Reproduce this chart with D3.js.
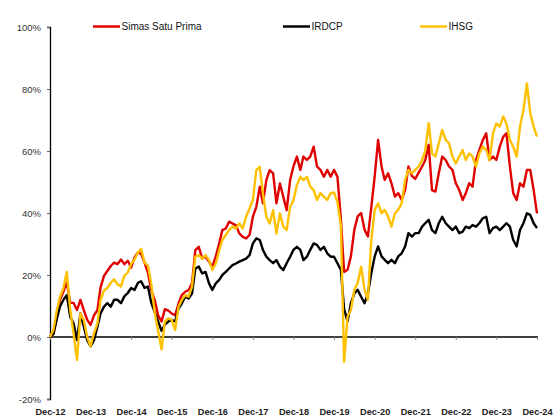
<!DOCTYPE html>
<html>
<head>
<meta charset="utf-8">
<script src="https://cdn.jsdelivr.net/npm/d3@7"></script>
<style>
  html, body { margin: 0; padding: 0; background: #fff; }
  svg { display: block; }
</style>
</head>
<body>
<svg id="chart" width="560" height="420"></svg>
<script>
// Monthly observations, first = Dec-2012, last = Dec-2024 (cumulative return, %)
const startMonth = new Date(2012, 11, 1);

const seriesNames = ["Simas Satu Prima", "IRDCP", "IHSG"];
const seriesColors = ["#E10000", "#000000", "#FFC000"];

const simas = [
  0, 1, 6.5, 12, 14.7, 17.6, 11, 11, 8.7, 12, 8.7, 5.5, 3.9,
  7, 8.7, 16, 19.7, 21.3, 22.9, 24, 23.5, 25, 23.5, 24.6, 22.4,
  25.7, 27.3, 26.8, 24, 20.8, 15, 12, 7, 5, 9, 8.5, 7.6,
  7, 10.8, 13.5, 14.6, 15.1, 17.3, 28, 29.1, 25.3, 25.9, 24.3, 22.7,
  25.9, 30.2, 34.5, 35, 37.2, 36.6, 36.1, 33.4, 32.3, 31.8, 32.9, 38.8,
  42, 48.5, 43.1, 50.6, 53.8, 52.8, 43.1, 49.5, 45.2, 40.9, 50.6, 55,
  58.2, 53.9, 58.2, 57.1, 58.2, 61.4, 55, 53.9, 51.7, 53.9, 51.7, 53.9,
  51.7, 38, 21, 21.7, 26, 34.6, 38.9, 40, 34.6, 32.4, 42, 51.7,
  63.6, 55, 50.7, 52.8, 49.6, 45.3, 46.4, 44.2, 47.4, 55, 52, 51,
  53, 55, 57, 62, 47.4, 46.9, 52.8, 58.2, 57.1, 55, 53.9, 49.6,
  47.4, 44.2, 46.4, 49.6, 48.5, 57.1, 60.3, 63.5, 65.7, 57.1, 58.2, 57.1,
  61.4, 64.6, 65.7, 55, 46.4, 44.2, 49.6, 48.5, 53.9, 53.9, 47.4, 39.9
];

const irdcp = [
  0, 1, 6, 9.8, 12, 13.5, 6.5, 4.4, -1, 7.6, 3.3, -1, -3,
  -1, 3.3, 7.6, 9.8, 10.9, 9.8, 12, 12, 10.9, 13.1, 14.2, 15.8,
  15.2, 17.5, 18, 15.8, 16.3, 11, 8, 5, 2, 4, 5, 5.5,
  5, 9.2, 10.8, 13, 12.4, 14, 22.1, 22.7, 20.5, 21, 17.3, 15.2,
  17.3, 18.4, 20, 21, 22.1, 23.2, 23.7, 24.3, 24.8, 25.3, 26.4, 30.2,
  31.8, 31.3, 28.1, 25.9, 24.8, 23.8, 24.8, 22.7, 21.6, 23.8, 25.9, 28.1,
  29.1, 28.1, 24.8, 25.9, 28.1, 30.2, 29.7, 28.1, 29.1, 27, 25.9, 25.9,
  23.8, 21.6, 9, 5, 10.9, 14.1, 15.2, 13, 10.9, 14, 20.6, 26,
  29.2, 26, 24.9, 23.8, 24.9, 23.8, 26, 27, 29.2, 33.5, 32.4, 33.5,
  33.5, 35.6, 36.7, 37.8, 34.5, 33.5, 36.7, 38.8, 36.7, 35.6, 34.5, 35.6,
  33.5, 34, 35.6, 35.1, 36.1, 35.6, 36.7, 38.3, 38.8, 33.5, 35.1, 35.6,
  34.5, 35.6, 36.7, 35.6, 31.3, 29.2, 34.5, 36.7, 39.9, 39.4, 36.7, 35.1
];

const ihsg = [
  0, 2.3, 8.7, 13, 15.8, 21, 8.7, 1.2, -7.4, 7.6, 5.5, 0, -3,
  1.2, 4.4, 12, 15, 15.8, 17.5, 18.6, 17, 16.3, 19.7, 20.8, 23.5,
  25, 27.3, 28.4, 24, 23, 17, 8, 2, -4, 5, 6, 5.5,
  2.2, 9.8, 11.9, 13.5, 13, 16.2, 25.9, 26.4, 25.3, 26.4, 24.8, 21.6,
  23.7, 28, 31.3, 32.9, 34.5, 35.6, 35, 36.6, 35, 38.8, 41.5, 44.2,
  53.8, 54.9, 46.3, 38.8, 36.6, 40.9, 33.4, 39.9, 35.6, 34.5, 42, 44,
  49, 51.7, 50.6, 51.7, 48.5, 47.4, 44.2, 46.4, 45.3, 44.2, 46.4, 46.6,
  43.6, 36, -8, 6.6, 8.7, 15.2, 17.4, 22.7, 15.2, 12, 31.3, 41,
  43.1, 39.9, 41, 38.9, 35.6, 39.9, 41, 43.1, 50.7, 53.9, 52.8, 53.9,
  55, 57.1, 60, 69, 59.2, 58.2, 62.5, 66.8, 63.6, 62.5, 58.2, 56,
  58.2, 60.3, 57.1, 59.2, 58.2, 55, 59.2, 61.4, 60.3, 57.1, 65.7, 68.9,
  67.9, 71.1, 68.9, 63.6, 61.4, 58.2, 67.9, 73.2, 81.8, 72.2, 67.9, 64.6
];

const yTicks = [-20, 0, 20, 40, 60, 80, 100];
const xTickYears = [2012, 2013, 2014, 2015, 2016, 2017, 2018, 2019, 2020, 2021, 2022, 2023, 2024];

const allSeries = [simas, irdcp, ihsg];

const svg = d3.select("#chart");
const padL = 50, padR = 537, padT = 27, padB = 399;

const x = d3.scaleTime()
  .domain([startMonth, new Date(2024, 11, 1)])
  .range([padL, padR]);
const y = d3.scaleLinear().domain([-20, 100]).range([padB, padT]);

const dateOf = i => d3.timeMonth.offset(startMonth, i);

// y axis
const yAxis = d3.axisLeft(y)
  .tickValues(yTicks)
  .tickFormat(d => d + "%")
  .tickSize(3)
  .tickPadding(6);
const gy = svg.append("g").attr("transform", `translate(${padL},0)`).call(yAxis);
gy.select(".domain").attr("stroke", "#000").attr("stroke-width", 1.3);
gy.selectAll(".tick line").attr("stroke", "#666");
gy.selectAll("text")
  .attr("font-family", "'Liberation Sans', Arial, sans-serif")
  .attr("font-size", 9.5)
  .attr("fill", "#333");

// x axis on the zero line
const xAxis = d3.axisBottom(x)
  .tickValues(xTickYears.map(yr => new Date(yr, 11, 1)))
  .tickFormat(d3.timeFormat("Dec-%y"))
  .tickSize(3)
  .tickSizeOuter(0);
const gx = svg.append("g").attr("transform", `translate(0,${y(0)})`).call(xAxis);
gx.select(".domain").attr("stroke", "#000").attr("stroke-width", 1.3)
  .attr("d", `M${padL},0H${padR + 1}`);
gx.selectAll(".tick line").attr("stroke", "#888");
gx.selectAll("text")
  .attr("font-family", "'Liberation Sans', Arial, sans-serif")
  .attr("font-weight", "bold")
  .attr("font-size", 9.2)
  .attr("fill", "#222")
  .attr("y", padB - y(0) + 9)
  .attr("dy", "0.71em");

// lines
const line = d3.line()
  .x((d, i) => x(dateOf(i)))
  .y(d => y(d));

svg.append("g").selectAll("path")
  .data(allSeries)
  .join("path")
  .attr("d", d => line(d))
  .attr("fill", "none")
  .attr("stroke", (d, i) => seriesColors[i])
  .attr("stroke-width", 2.4)
  .attr("stroke-linejoin", "round");

// legend
const legendX = [93, 283, 420];
const lg = svg.append("g");
seriesNames.forEach((name, i) => {
  lg.append("line")
    .attr("x1", legendX[i]).attr("x2", legendX[i] + 27)
    .attr("y1", 26.5).attr("y2", 26.5)
    .attr("stroke", seriesColors[i]).attr("stroke-width", 2.5);
  lg.append("text")
    .attr("x", legendX[i] + 28.5).attr("y", 26.5)
    .attr("dy", "0.35em")
    .attr("font-family", "'Liberation Sans', Arial, sans-serif")
    .attr("font-size", 10)
    .attr("fill", "#111")
    .text(name);
});
</script>
</body>
</html>
